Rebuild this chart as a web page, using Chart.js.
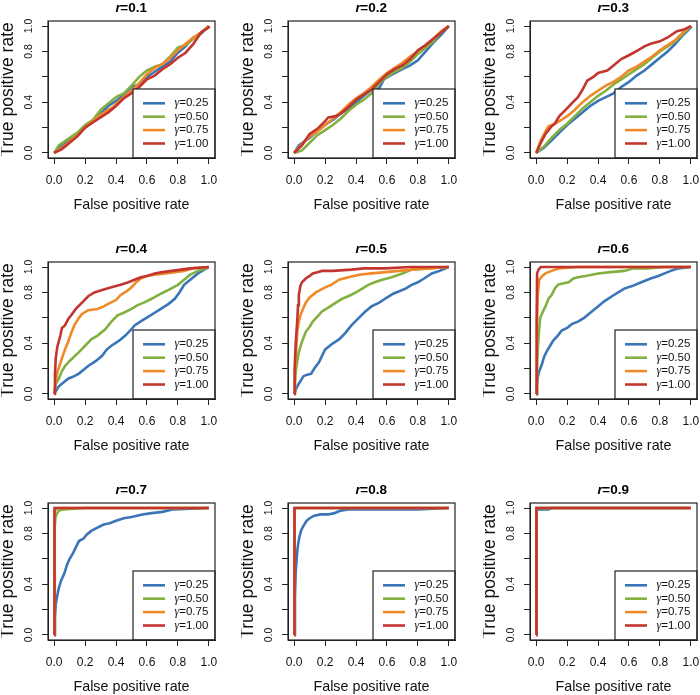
<!DOCTYPE html>
<html>
<head>
<meta charset="utf-8">
<script src="https://cdn.jsdelivr.net/npm/chart.js@4/dist/chart.umd.min.js"></script>
<style>
  html, body { margin: 0; padding: 0; background: #fff; overflow: hidden; }
  #wrap { position: relative; width: 700px; height: 695px; }
  #wrap canvas { position: absolute; }
</style>
</head>
<body>
<div id="wrap"></div>
<script>
// panel titles (r) and legend labels (gamma)
const rLabels = ['0.1', '0.2', '0.3', '0.4', '0.5', '0.6', '0.7', '0.8', '0.9'];
const gammaLabels = ['0.25', '0.50', '0.75', '1.00'];
const xTicks = [0, 0.2, 0.4, 0.6, 0.8, 1.0];
const yTicks = [0, 0.2, 0.4, 0.6, 0.8, 1.0];
const yTickLabelled = [0, 0.4, 0.8, 1.0];

// ROC curves, [false positive rate, true positive rate]
const roc_r01_g025 = [[0,0],[0.04,0.05],[0.1,0.1],[0.15,0.14],[0.2,0.2],[0.25,0.25],[0.3,0.31],[0.35,0.37],[0.4,0.41],[0.45,0.46],[0.5,0.52],[0.55,0.54],[0.6,0.6],[0.65,0.64],[0.7,0.68],[0.75,0.72],[0.8,0.79],[0.85,0.84],[0.9,0.91],[0.95,0.94],[1,1]];
const roc_r01_g050 = [[0,0],[0.03,0.06],[0.1,0.12],[0.15,0.16],[0.2,0.22],[0.25,0.26],[0.3,0.34],[0.35,0.39],[0.4,0.44],[0.45,0.47],[0.5,0.53],[0.55,0.6],[0.6,0.65],[0.65,0.68],[0.7,0.7],[0.75,0.76],[0.8,0.83],[0.85,0.85],[0.9,0.9],[0.95,0.95],[1,1]];
const roc_r01_g075 = [[0,0],[0.05,0.04],[0.1,0.09],[0.15,0.14],[0.2,0.2],[0.25,0.25],[0.3,0.3],[0.35,0.34],[0.38,0.36],[0.42,0.41],[0.5,0.49],[0.55,0.55],[0.6,0.62],[0.65,0.67],[0.7,0.7],[0.75,0.75],[0.8,0.81],[0.85,0.86],[0.9,0.91],[0.95,0.95],[1,1]];
const roc_r01_g100 = [[0,0],[0.05,0.03],[0.1,0.08],[0.15,0.13],[0.2,0.2],[0.25,0.24],[0.3,0.28],[0.35,0.32],[0.4,0.37],[0.45,0.43],[0.5,0.47],[0.55,0.52],[0.6,0.58],[0.65,0.61],[0.7,0.66],[0.75,0.7],[0.8,0.75],[0.85,0.79],[0.9,0.86],[0.95,0.95],[1,0.99],[1,1]];

const roc_r02_g025 = [[0,0],[0.03,0.06],[0.1,0.12],[0.15,0.17],[0.2,0.22],[0.25,0.26],[0.3,0.31],[0.35,0.35],[0.4,0.4],[0.45,0.45],[0.5,0.5],[0.55,0.51],[0.58,0.58],[0.62,0.61],[0.65,0.63],[0.7,0.66],[0.75,0.69],[0.8,0.73],[0.85,0.8],[0.9,0.87],[0.95,0.93],[1,1]];
const roc_r02_g050 = [[0,0],[0.05,0.02],[0.1,0.08],[0.15,0.14],[0.2,0.18],[0.25,0.22],[0.3,0.27],[0.35,0.33],[0.4,0.38],[0.45,0.42],[0.5,0.47],[0.55,0.55],[0.6,0.6],[0.65,0.64],[0.7,0.67],[0.75,0.72],[0.8,0.78],[0.85,0.83],[0.9,0.88],[0.95,0.95],[1,1]];
const roc_r02_g075 = [[0,0],[0.05,0.07],[0.1,0.13],[0.15,0.17],[0.2,0.22],[0.25,0.27],[0.3,0.32],[0.35,0.38],[0.4,0.43],[0.45,0.47],[0.5,0.52],[0.55,0.58],[0.6,0.63],[0.65,0.67],[0.7,0.71],[0.75,0.76],[0.8,0.8],[0.85,0.85],[0.9,0.9],[0.95,0.96],[1,1]];
const roc_r02_g100 = [[0,0],[0.05,0.06],[0.1,0.15],[0.15,0.19],[0.2,0.25],[0.22,0.28],[0.27,0.29],[0.3,0.31],[0.35,0.36],[0.4,0.42],[0.45,0.46],[0.5,0.5],[0.55,0.56],[0.6,0.62],[0.65,0.66],[0.7,0.69],[0.75,0.74],[0.8,0.81],[0.85,0.85],[0.9,0.9],[0.95,0.95],[1,1]];

const roc_r03_g025 = [[0,0],[0.05,0.04],[0.1,0.1],[0.15,0.16],[0.2,0.22],[0.25,0.27],[0.3,0.32],[0.35,0.37],[0.4,0.41],[0.45,0.44],[0.5,0.47],[0.55,0.52],[0.6,0.56],[0.65,0.61],[0.7,0.65],[0.75,0.7],[0.8,0.75],[0.85,0.8],[0.9,0.86],[0.95,0.93],[1,0.99],[1,1]];
const roc_r03_g050 = [[0,0],[0.05,0.05],[0.1,0.12],[0.15,0.18],[0.2,0.23],[0.25,0.29],[0.3,0.35],[0.35,0.4],[0.4,0.45],[0.45,0.49],[0.5,0.54],[0.55,0.58],[0.6,0.62],[0.65,0.66],[0.7,0.7],[0.75,0.75],[0.8,0.8],[0.85,0.84],[0.9,0.88],[0.95,0.94],[1,1]];
const roc_r03_g075 = [[0,0],[0.03,0.1],[0.06,0.17],[0.08,0.21],[0.12,0.23],[0.15,0.25],[0.2,0.29],[0.25,0.34],[0.3,0.4],[0.35,0.45],[0.4,0.49],[0.45,0.53],[0.5,0.56],[0.55,0.6],[0.6,0.65],[0.65,0.68],[0.7,0.72],[0.75,0.76],[0.8,0.81],[0.85,0.85],[0.9,0.89],[0.95,0.95],[1,1]];
const roc_r03_g100 = [[0,0],[0.03,0.08],[0.06,0.15],[0.1,0.21],[0.12,0.23],[0.15,0.29],[0.19,0.34],[0.23,0.39],[0.27,0.44],[0.3,0.5],[0.33,0.57],[0.37,0.6],[0.4,0.63],[0.46,0.65],[0.5,0.69],[0.55,0.74],[0.6,0.77],[0.66,0.81],[0.7,0.84],[0.74,0.86],[0.8,0.88],[0.85,0.91],[0.91,0.96],[0.95,0.97],[1,1]];

const roc_r04_g025 = [[0,0],[0.03,0.06],[0.06,0.09],[0.09,0.12],[0.13,0.14],[0.16,0.16],[0.2,0.2],[0.22,0.22],[0.27,0.26],[0.31,0.3],[0.34,0.35],[0.37,0.38],[0.42,0.42],[0.46,0.46],[0.5,0.51],[0.52,0.54],[0.57,0.58],[0.61,0.61],[0.65,0.64],[0.69,0.67],[0.74,0.71],[0.78,0.75],[0.81,0.8],[0.84,0.86],[0.88,0.9],[0.93,0.95],[0.97,0.98],[1,1]];
const roc_r04_g050 = [[0,0],[0.01,0.08],[0.03,0.12],[0.05,0.18],[0.07,0.22],[0.1,0.26],[0.16,0.33],[0.2,0.38],[0.24,0.43],[0.28,0.46],[0.33,0.51],[0.37,0.57],[0.41,0.62],[0.45,0.64],[0.5,0.67],[0.54,0.7],[0.58,0.72],[0.63,0.75],[0.69,0.79],[0.74,0.82],[0.8,0.86],[0.84,0.9],[0.88,0.94],[0.93,0.97],[1,1]];
const roc_r04_g075 = [[0,0],[0.01,0.1],[0.02,0.17],[0.05,0.28],[0.07,0.35],[0.09,0.41],[0.11,0.48],[0.13,0.54],[0.16,0.6],[0.18,0.63],[0.22,0.66],[0.28,0.67],[0.32,0.69],[0.35,0.71],[0.4,0.74],[0.43,0.78],[0.47,0.81],[0.5,0.84],[0.53,0.88],[0.56,0.91],[0.6,0.93],[0.65,0.94],[0.72,0.95],[0.78,0.96],[0.84,0.97],[0.9,0.99],[1,1]];
const roc_r04_g100 = [[0,0],[0.005,0.15],[0.01,0.28],[0.02,0.37],[0.04,0.46],[0.05,0.52],[0.07,0.54],[0.09,0.59],[0.11,0.62],[0.14,0.67],[0.18,0.72],[0.22,0.77],[0.26,0.8],[0.31,0.82],[0.37,0.84],[0.43,0.86],[0.48,0.88],[0.52,0.9],[0.56,0.92],[0.6,0.93],[0.65,0.95],[0.7,0.96],[0.76,0.97],[0.82,0.98],[0.88,0.99],[1,1]];

const roc_r05_g025 = [[0,0],[0.01,0.03],[0.02,0.06],[0.04,0.1],[0.06,0.14],[0.08,0.15],[0.11,0.16],[0.13,0.2],[0.16,0.25],[0.18,0.3],[0.2,0.35],[0.24,0.39],[0.29,0.43],[0.33,0.48],[0.37,0.54],[0.41,0.59],[0.46,0.65],[0.5,0.69],[0.55,0.72],[0.6,0.76],[0.64,0.79],[0.68,0.81],[0.72,0.83],[0.76,0.86],[0.8,0.88],[0.84,0.91],[0.89,0.95],[0.94,0.97],[1,1]];
const roc_r05_g050 = [[0,0],[0.005,0.1],[0.01,0.17],[0.02,0.26],[0.03,0.33],[0.05,0.41],[0.075,0.49],[0.1,0.53],[0.12,0.57],[0.15,0.61],[0.18,0.65],[0.22,0.68],[0.27,0.72],[0.31,0.75],[0.35,0.77],[0.4,0.8],[0.44,0.83],[0.48,0.86],[0.52,0.88],[0.57,0.9],[0.63,0.92],[0.7,0.95],[0.76,0.98],[0.85,0.99],[1,1]];
const roc_r05_g075 = [[0,0],[0.005,0.15],[0.01,0.3],[0.02,0.49],[0.03,0.57],[0.04,0.62],[0.06,0.68],[0.075,0.72],[0.1,0.76],[0.14,0.8],[0.17,0.82],[0.2,0.84],[0.24,0.86],[0.29,0.9],[0.35,0.92],[0.42,0.94],[0.5,0.95],[0.59,0.96],[0.68,0.97],[0.76,0.98],[0.88,0.99],[1,1]];
const roc_r05_g100 = [[0,0],[0.003,0.2],[0.01,0.4],[0.02,0.58],[0.025,0.7],[0.03,0.78],[0.04,0.85],[0.05,0.88],[0.075,0.91],[0.1,0.93],[0.12,0.95],[0.15,0.96],[0.18,0.97],[0.25,0.97],[0.37,0.98],[0.45,0.99],[0.59,0.99],[0.75,1],[1,1]];

const roc_r06_g025 = [[0,0],[0.005,0.06],[0.01,0.13],[0.02,0.18],[0.036,0.23],[0.05,0.29],[0.07,0.34],[0.09,0.38],[0.11,0.42],[0.14,0.46],[0.165,0.5],[0.2,0.52],[0.23,0.55],[0.27,0.57],[0.31,0.6],[0.35,0.64],[0.4,0.69],[0.44,0.73],[0.49,0.77],[0.53,0.8],[0.57,0.83],[0.62,0.85],[0.66,0.87],[0.7,0.89],[0.74,0.91],[0.79,0.93],[0.83,0.95],[0.87,0.97],[0.92,0.99],[1,1]];
const roc_r06_g050 = [[0,0],[0.005,0.2],[0.01,0.35],[0.02,0.52],[0.026,0.6],[0.04,0.64],[0.06,0.69],[0.08,0.75],[0.1,0.78],[0.12,0.83],[0.14,0.86],[0.17,0.87],[0.21,0.88],[0.24,0.91],[0.27,0.92],[0.32,0.93],[0.4,0.95],[0.48,0.96],[0.57,0.97],[0.63,0.99],[0.72,0.99],[0.83,1],[1,1]];
const roc_r06_g075 = [[0,0],[0.005,0.5],[0.01,0.78],[0.02,0.9],[0.04,0.93],[0.06,0.95],[0.1,0.97],[0.15,0.99],[0.27,1],[1,1]];
const roc_r06_g100 = [[0,0],[0.003,0.6],[0.006,0.95],[0.015,0.98],[0.03,1],[1,1]];

const roc_r07_g025 = [[0,0],[0.005,0.14],[0.01,0.24],[0.02,0.31],[0.03,0.37],[0.045,0.43],[0.064,0.48],[0.085,0.56],[0.1,0.6],[0.12,0.64],[0.14,0.69],[0.16,0.74],[0.19,0.76],[0.21,0.79],[0.24,0.82],[0.27,0.84],[0.32,0.87],[0.36,0.88],[0.4,0.9],[0.45,0.92],[0.5,0.93],[0.57,0.95],[0.63,0.96],[0.7,0.97],[0.77,0.99],[0.88,0.995],[1,1]];
const roc_r07_g050 = [[0,0],[0.004,0.85],[0.008,0.92],[0.015,0.95],[0.03,0.98],[0.06,0.99],[0.2,1],[1,1]];
const roc_r07_g075 = [[0,0],[0.003,0.97],[0.01,0.99],[0.02,1],[1,1]];
const roc_r07_g100 = [[0,0],[0.002,1],[1,1]];

const roc_r08_g025 = [[0,0],[0.005,0.3],[0.01,0.5],[0.02,0.66],[0.026,0.72],[0.035,0.78],[0.047,0.83],[0.06,0.86],[0.08,0.9],[0.1,0.92],[0.13,0.94],[0.17,0.95],[0.22,0.95],[0.26,0.96],[0.3,0.98],[0.35,0.99],[0.5,0.99],[0.8,0.99],[1,1]];
const roc_r08_g050 = [[0,0],[0.003,0.99],[0.01,1],[1,1]];
const roc_r08_g075 = [[0,0],[0.002,1],[1,1]];
const roc_r08_g100 = [[0,0],[0.002,1],[1,1]];

const roc_r09_g025 = [[0,0],[0.003,0.99],[0.08,0.99],[0.1,1],[1,1]];
const roc_r09_g050 = [[0,0],[0.002,1],[1,1]];
const roc_r09_g075 = [[0,0],[0.002,1],[1,1]];
const roc_r09_g100 = [[0,0],[0.002,1],[1,1]];

const panels = [
  [roc_r01_g025, roc_r01_g050, roc_r01_g075, roc_r01_g100],
  [roc_r02_g025, roc_r02_g050, roc_r02_g075, roc_r02_g100],
  [roc_r03_g025, roc_r03_g050, roc_r03_g075, roc_r03_g100],
  [roc_r04_g025, roc_r04_g050, roc_r04_g075, roc_r04_g100],
  [roc_r05_g025, roc_r05_g050, roc_r05_g075, roc_r05_g100],
  [roc_r06_g025, roc_r06_g050, roc_r06_g075, roc_r06_g100],
  [roc_r07_g025, roc_r07_g050, roc_r07_g075, roc_r07_g100],
  [roc_r08_g025, roc_r08_g050, roc_r08_g075, roc_r08_g100],
  [roc_r09_g025, roc_r09_g050, roc_r09_g075, roc_r09_g100]
];

const lineColors = ['#3a75b8', '#83b041', '#f08a28', '#c3352f'];
const FONT = '"Liberation Sans", Arial, Helvetica, sans-serif';

// layout of the 3x3 grid (canvas origin + fixed plot box inside it)
const colLeft = [1, 241, 483];
const rowTop = [1, 242, 483];
const CW = 233, CH = 230;
const AREA_L = 47, AREA_T = 20, AREA_W = 167, AREA_H = 137;

// white legend box in the lower right corner, like R's legend("bottomright")
const legendPlugin = {
  id: 'rocLegend',
  afterDatasetsDraw(chart) {
    const { ctx, chartArea } = chart;
    const w = 82, h = 69;
    const L = chartArea.right - w, T = chartArea.bottom - h;
    ctx.save();
    ctx.fillStyle = '#fff';
    ctx.fillRect(L, T, w, h);
    ctx.strokeStyle = '#222';
    ctx.lineWidth = 1.2;
    ctx.strokeRect(L, T, w, h);
    chart.data.datasets.forEach((ds, i) => {
      const y = T + 14.3 + i * 13.4;
      ctx.strokeStyle = ds.borderColor;
      ctx.lineWidth = 2.6;
      ctx.beginPath();
      ctx.moveTo(L + 10, y);
      ctx.lineTo(L + 32, y);
      ctx.stroke();
      ctx.fillStyle = '#111';
      ctx.textBaseline = 'middle';
      ctx.textAlign = 'left';
      ctx.font = 'italic 12px "Liberation Serif", "DejaVu Serif", serif';
      ctx.fillText('γ', L + 41.5, y);
      const gw = ctx.measureText('γ').width;
      ctx.font = '11.5px ' + FONT;
      ctx.fillText('=' + ds.label, L + 41.5 + gw, y);
    });
    ctx.restore();
  }
};

// full box round the plot region
const boxPlugin = {
  id: 'plotBox',
  afterDatasetsDraw(chart) {
    const { ctx, chartArea: a } = chart;
    ctx.save();
    ctx.strokeStyle = '#222';
    ctx.lineWidth = 1.2;
    ctx.strokeRect(a.left, a.top, a.right - a.left, a.bottom - a.top);
    ctx.restore();
  }
};

// "r=0.x" title with italic r
const titlePlugin = {
  id: 'panelTitle',
  afterDraw(chart, args, opts) {
    const { ctx, chartArea } = chart;
    const fItalic = 'italic bold 13.5px ' + FONT;
    const fBold = 'bold 13.5px ' + FONT;
    ctx.save();
    ctx.font = fItalic;
    const w1 = ctx.measureText('r').width;
    ctx.font = fBold;
    const w2 = ctx.measureText('=' + opts.r).width;
    const x = (chartArea.left + chartArea.right) / 2 - (w1 + w2) / 2;
    const y = chartArea.top - 9;
    ctx.fillStyle = '#000';
    ctx.textBaseline = 'alphabetic';
    ctx.textAlign = 'left';
    ctx.font = fItalic;
    ctx.fillText('r', x, y);
    ctx.font = fBold;
    ctx.fillText('=' + opts.r, x + w1 - 0.5, y);
    ctx.restore();
  }
};

const wrap = document.getElementById('wrap');

panels.forEach((series, p) => {
  const cv = document.createElement('canvas');
  cv.width = CW;
  cv.height = CH;
  cv.style.left = colLeft[p % 3] + 'px';
  cv.style.top = rowTop[Math.floor(p / 3)] + 'px';
  wrap.appendChild(cv);

  new Chart(cv, {
    type: 'line',
    data: {
      datasets: series.map((pts, i) => ({
        label: gammaLabels[i],
        data: pts.map(([x, y]) => ({ x, y })),
        borderColor: lineColors[i],
        borderWidth: 2.6,
        pointRadius: 0,
        fill: false,
        tension: 0,
        order: 3 - i
      }))
    },
    options: {
      responsive: false,
      animation: false,
      events: [],
      layout: { padding: { left: 0, top: AREA_T, right: CW - AREA_L - AREA_W, bottom: 0 } },
      plugins: {
        legend: { display: false },
        tooltip: { enabled: false },
        panelTitle: { r: rLabels[p] }
      },
      scales: {
        x: {
          type: 'linear',
          min: -0.04,
          max: 1.04,
          afterBuildTicks: s => { s.ticks = xTicks.map(v => ({ value: v })); },
          afterFit: s => { s.height = CH - AREA_T - AREA_H; },
          grid: { drawOnChartArea: false, drawTicks: true, tickLength: 6, color: '#222', lineWidth: 1 },
          border: { display: true, color: '#222', width: 1 },
          ticks: {
            autoSkip: false, maxRotation: 0, minRotation: 0, padding: 9, color: '#111',
            font: { family: FONT, size: 12 },
            callback: v => v.toFixed(1)
          },
          title: {
            display: true, text: 'False positive rate', color: '#111',
            font: { family: FONT, size: 14.3, lineHeight: 1.2 },
            padding: { top: 0, bottom: 17 }
          }
        },
        y: {
          type: 'linear',
          min: -0.04,
          max: 1.04,
          afterBuildTicks: s => { s.ticks = yTicks.map(v => ({ value: v })); },
          afterFit: s => { s.width = AREA_L; },
          grid: { drawOnChartArea: false, drawTicks: true, tickLength: 6, color: '#222', lineWidth: 1 },
          border: { display: true, color: '#222', width: 1 },
          ticks: {
            autoSkip: false, minRotation: 90, maxRotation: 90, crossAlign: 'center', padding: 6, color: '#111',
            font: { family: FONT, size: 10.5 },
            callback: v => (yTickLabelled.includes(v) ? v.toFixed(1) : '')
          },
          title: {
            display: true, text: 'True positive rate', color: '#111',
            font: { family: FONT, size: 17.5, lineHeight: 0.8 },
            padding: { top: 0.3, bottom: 0 }
          }
        }
      }
    },
    plugins: [legendPlugin, boxPlugin, titlePlugin]
  });
});
</script>
</body>
</html>
